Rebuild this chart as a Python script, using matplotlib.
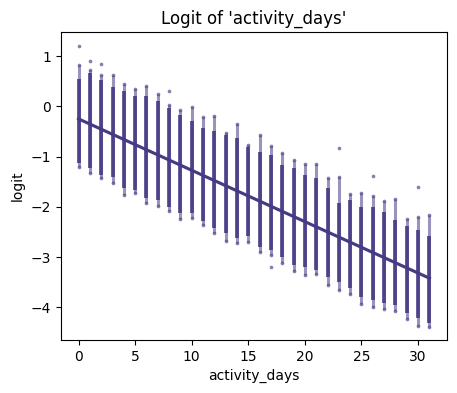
"""
Logit of 'activity_days' - per-day logit spread with a linear fit.
"""

import matplotlib.pyplot as plt

# values, per day
DAYS = list(range(32))
SPARSE_TOP = [0.83, 0.73, 0.63, 0.63, 0.45, 0.35, 0.41, 0.24, 0.03, -0.08,
              -0.02, -0.21, -0.20, -0.53, -0.35, -0.77, -0.57, -0.79, -0.93, -1.07,
              -1.15, -1.15, -1.43, -1.41, -1.74, -1.72, -1.78, -1.88, -1.84, -2.25,
              -2.20, -2.16]
DENSE_TOP = [0.55, 0.67, 0.53, 0.39, 0.30, 0.20, 0.20, 0.10, -0.03, -0.17,
             -0.30, -0.43, -0.50, -0.57, -0.63, -0.80, -0.90, -0.97, -1.17, -1.22,
             -1.36, -1.42, -1.62, -1.92, -1.86, -2.00, -2.00, -2.10, -2.26, -2.39,
             -2.46, -2.59]
DENSE_BOT = [-1.13, -1.23, -1.36, -1.40, -1.63, -1.66, -1.82, -1.86, -2.00, -2.12,
             -2.12, -2.29, -2.42, -2.52, -2.62, -2.59, -2.79, -2.86, -2.99, -3.16,
             -3.19, -3.26, -3.39, -3.49, -3.62, -3.79, -3.85, -3.92, -3.95, -4.11,
             -4.21, -4.31]
SPARSE_BOT = [-1.20, -1.32, -1.43, -1.53, -1.76, -1.73, -1.93, -1.98, -2.08, -2.24,
              -2.23, -2.37, -2.53, -2.67, -2.71, -2.69, -2.90, -2.96, -3.12, -3.28,
              -3.36, -3.34, -3.56, -3.66, -3.73, -3.94, -3.99, -4.03, -4.07, -4.24,
              -4.37, -4.40]

# isolated points
OUTLIER_DAYS = [0, 1, 2, 8, 17, 23, 26, 30]
OUTLIER_VALS = [1.20, 0.91, 0.85, 0.31, -3.20, -0.83, -1.38, -1.60]

# fitted line end points
FIT_X = [0, 31]
FIT_Y = [-0.25, -3.42]

COLOR = "#473a85"

fig, ax = plt.subplots(figsize=(4.57, 3.93), dpi=100)
fig.subplots_adjust(left=0.1335, right=0.978, top=0.9186, bottom=0.1349)

# sparse tails, then dense core of each column
ax.vlines(DAYS, SPARSE_BOT, SPARSE_TOP, color=COLOR, alpha=0.55, lw=2.2)
ax.vlines(DAYS, DENSE_BOT, DENSE_TOP, color=COLOR, alpha=0.92, lw=2.7)
ax.scatter(DAYS + DAYS, SPARSE_TOP + SPARSE_BOT, s=7, color=COLOR, alpha=0.65,
           linewidths=0)
ax.scatter(OUTLIER_DAYS, OUTLIER_VALS, s=7, color=COLOR, alpha=0.65, linewidths=0)

ax.plot(FIT_X, FIT_Y, color=COLOR, lw=2.25)

ax.set_xlim(-1.55, 32.55)
ax.set_ylim(-4.65, 1.48)
ax.set_xticks([0, 5, 10, 15, 20, 25, 30])
ax.set_yticks([-4, -3, -2, -1, 0, 1])
ax.set_title("Logit of 'activity_days'")
ax.set_xlabel("activity_days")
ax.set_ylabel("logit")

plt.savefig("out.png")
